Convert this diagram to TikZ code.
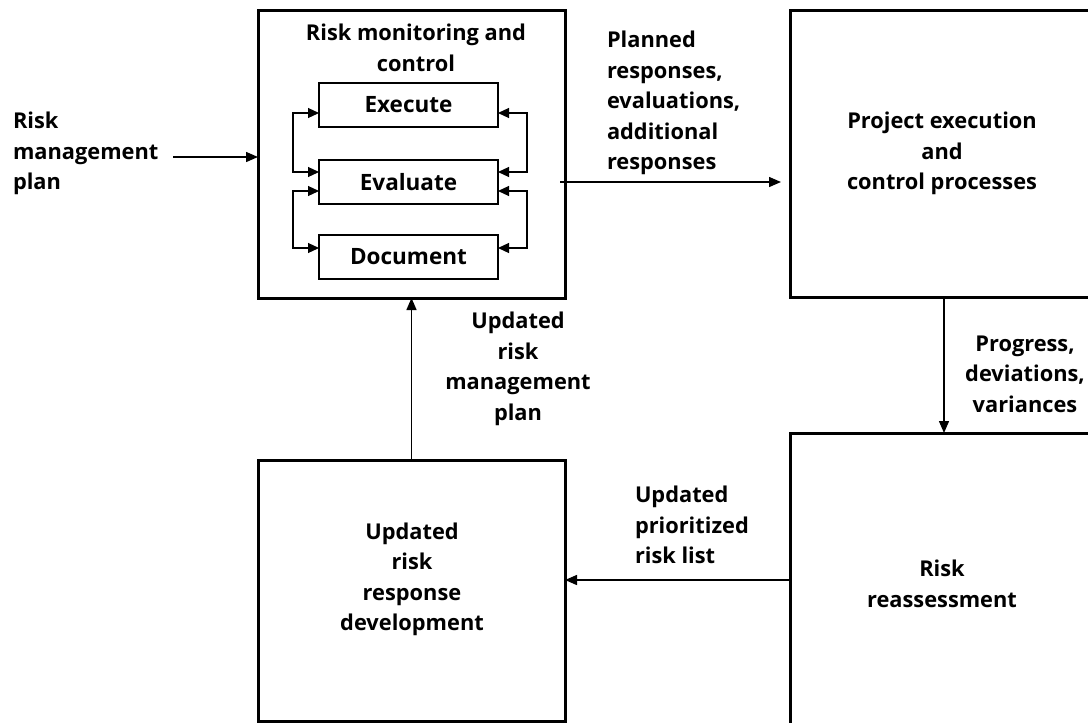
\documentclass[tikz,border=0pt]{standalone}
\usepackage{fontspec}
\setmainfont{Open Sans}
\usetikzlibrary{arrows.meta}
\newcommand\dlabfont{\fontsize{21.8}{30.5}\selectfont\bfseries}
\newcommand\dinfont{\fontsize{22.5}{30.5}\selectfont\bfseries}
\begin{document}
\begin{tikzpicture}[x=1pt,y=-1pt,
  box/.style={draw,line width=3pt,inner sep=0pt,outer sep=0pt,align=center,font=\dlabfont},
  ibox/.style={draw,line width=2.6pt,inner sep=0pt,outer sep=0pt,minimum width=179pt,minimum height=44pt,font=\dinfont},
  txt/.style={inner sep=0pt,outer sep=0pt,font=\dlabfont},
  arr/.style={line width=1.4pt,-{Triangle[length=12pt,width=10pt]}},
  arrs/.style={line width=1.2pt,{Triangle[length=11pt,width=10pt]}-{Triangle[length=11pt,width=10pt]}}]
\clip (0,0) rectangle (1088,723);
% boxes
\node[box,minimum width=307pt,minimum height=288pt] (rmc) at (411.5,154) {};
\node[txt,align=center] (rmct) at (416,48) {Risk monitoring and\\control};
\node[ibox] (exe) at (408.5,105) {Execute};
\node[ibox] (eva) at (408.5,182) {Evaluate};
\node[ibox] (doc) at (408.5,257) {Document};
\node[box,minimum width=304pt,minimum height=287pt] (pec) at (942,153.5) {Project execution\\and\\control processes};
\node[box,minimum width=304pt,minimum height=302pt] (rra) at (942,584) {Risk\\reassessment};
\node[box,minimum width=307pt,minimum height=261pt] (urr) at (411.5,590.5) {};
\node[txt,align=center] (urrt) at (412,579.5) {Updated\\risk\\response\\development};
% labels
\node[txt,align=left,anchor=west] (rmpt) at (13,153.5) {Risk\\management\\plan};
\node[txt,align=left,anchor=west] (plt) at (607,103) {Planned\\responses,\\evaluations,\\additional\\responses};
\node[txt,align=center] (pdv) at (1025,374) {Progress,\\deviations,\\variances};
\node[txt,align=center] (urmp) at (518,369) {Updated\\risk\\management\\plan};
\node[txt,align=left,anchor=west] (uprl) at (635,525) {Updated\\prioritized\\risk list};
% connectors
\coordinate (rmpa) at (173,157);
\draw[arr] (rmpa) -- (rmpa -| rmc.west);
\draw[arr] ([xshift=-5pt]rmc.east |- eva) -- ([xshift=-9pt]pec.west |- eva);
\draw[arr] ([xshift=2pt]pec.south) -- ([xshift=2pt]rra.north);
\draw[arr] ([yshift=4pt]rra.west) -- ([yshift=4pt]rra.west -| urr.east);
\draw[arr] (urr.north) -- (urr.north |- rmc.south);
% inner connectors
\draw[arrs] ([yshift=-8pt]exe.west) -- ++(-26,0) |- ([yshift=10pt]eva.west);
\draw[arrs] ([yshift=-8pt]exe.east) -- ++(29,0) |- ([yshift=10pt]eva.east);
\draw[arrs] ([yshift=-9pt]eva.west) -- ++(-26,0) |- ([yshift=9pt]doc.west);
\draw[arrs] ([yshift=-9pt]eva.east) -- ++(29,0) |- ([yshift=9pt]doc.east);
\end{tikzpicture}
\end{document}
